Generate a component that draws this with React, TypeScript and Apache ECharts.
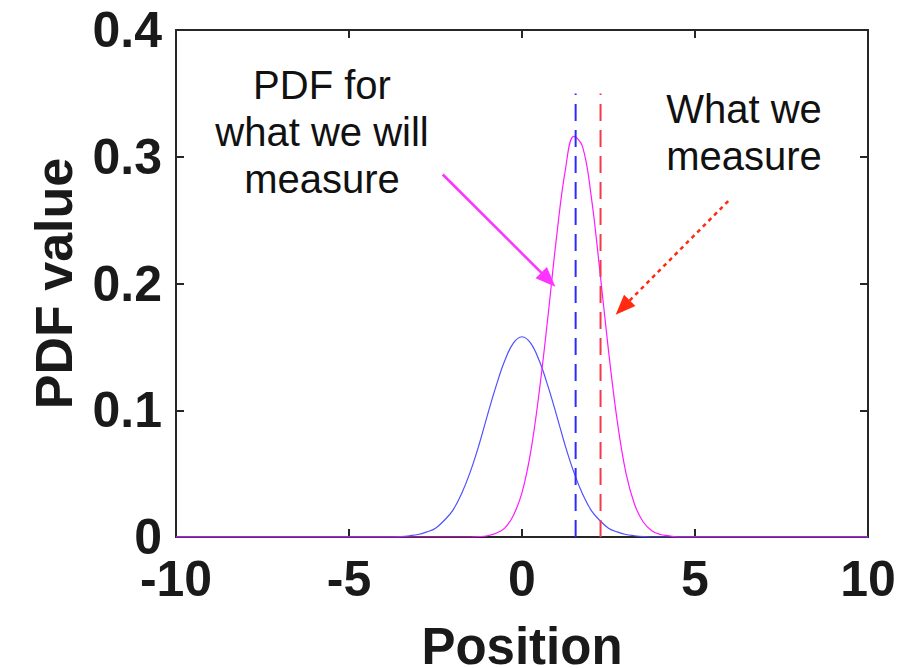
import React, { useEffect, useRef } from "react";
import * as echarts from "echarts";

// Prior PDF (blue)
const priorX = [-10, -4, -3.75, -3.5, -3.25, -3, -2.75, -2.5, -2.25, -2, -1.75, -1.5, -1.25, -1, -0.75, -0.5, -0.25, 0, 0.25, 0.5, 0.75, 1, 1.25, 1.5, 1.75, 2, 2.25, 2.5, 2.75, 3, 3.25, 3.5, 3.75, 4, 10];
const priorPdf = [0, 0, 0, 0.0003, 0.001, 0.002, 0.004, 0.007, 0.013, 0.021, 0.034, 0.051, 0.072, 0.096, 0.119, 0.139, 0.153, 0.158, 0.153, 0.139, 0.119, 0.096, 0.072, 0.051, 0.034, 0.021, 0.013, 0.007, 0.004, 0.002, 0.001, 0.0003, 0, 0, 0];

// PDF for what we will measure (magenta)
const measX = [-10, -1.5, -1.25, -1, -0.75, -0.5, -0.25, 0, 0.25, 0.5, 0.75, 1, 1.25, 1.5, 1.75, 2, 2.25, 2.5, 2.75, 3, 3.25, 3.5, 3.75, 4, 4.25, 4.5, 10];
const measPdf = [0, 0, 0.0003, 0.001, 0.003, 0.007, 0.017, 0.035, 0.067, 0.115, 0.174, 0.237, 0.289, 0.316, 0.308, 0.269, 0.21, 0.147, 0.092, 0.051, 0.026, 0.012, 0.005, 0.002, 0.001, 0, 0];

// vertical dashed markers
const predictedPosition = 1.55;
const measuredPosition = 2.27;
const markerTop = 0.35;

// annotation arrows in data coordinates [x, y]
const pdfArrowFrom = [-2.29, 0.286];
const pdfArrowTo = [0.76, 0.203];
const measArrowFrom = [5.96, 0.265];
const measArrowTo = [2.91, 0.181];

const annotationPdf = "PDF for\nwhat we will\nmeasure";
const annotationMeas = "What we\nmeasure";

const xLabel = "Position";
const yLabel = "PDF value";

export default function App() {
  const ref = useRef<HTMLDivElement>(null);
  useEffect(() => {
    if (!ref.current) return;
    const chart = echarts.init(ref.current, undefined, { renderer: "svg" });
    const axisColor = "#262626";
    const font = "'Liberation Sans', Arial, Helvetica, sans-serif";
    const tickLabel = {
      fontSize: 50,
      lineHeight: 36,
      fontWeight: "bold" as const,
      fontFamily: font,
      color: "#1a1a1a",
    };
    const axisLine = { show: true, onZero: false, lineStyle: { color: axisColor, width: 2 } };
    const axisTick = { show: true, inside: true, length: 8, lineStyle: { color: axisColor, width: 2 } };
    const nameStyle = {
      fontSize: 51,
      lineHeight: 44,
      fontWeight: "bold" as const,
      fontFamily: font,
      color: "#1a1a1a",
    };
    chart.setOption({
      animation: false,
      backgroundColor: "#ffffff",
      grid: {
        left: 176,
        top: 30,
        width: 692,
        height: 507,
        containLabel: false,
        outerBoundsMode: "none",
      },
      xAxis: [
        {
          type: "value",
          min: -10,
          max: 10,
          interval: 5,
          position: "bottom",
          axisLine,
          axisTick,
          splitLine: { show: false },
          axisLabel: { ...tickLabel, margin: 24 },
          name: xLabel,
          nameLocation: "middle",
          nameGap: 87,
          nameTextStyle: nameStyle,
        },
        {
          type: "value",
          min: -10,
          max: 10,
          interval: 5,
          position: "top",
          axisLine,
          axisTick,
          splitLine: { show: false },
          axisLabel: { show: false },
        },
      ],
      yAxis: [
        {
          type: "value",
          min: 0,
          max: 0.4,
          interval: 0.1,
          position: "left",
          axisLine,
          axisTick,
          splitLine: { show: false },
          axisLabel: { ...tickLabel, margin: 14 },
          name: yLabel,
          nameLocation: "middle",
          nameGap: 96,
          nameTextStyle: { ...nameStyle, fontSize: 52, lineHeight: 52 },
        },
        {
          type: "value",
          min: 0,
          max: 0.4,
          interval: 0.1,
          position: "right",
          axisLine,
          axisTick,
          splitLine: { show: false },
          axisLabel: { show: false },
        },
      ],
      series: [
        {
          type: "line",
          name: "prior",
          data: priorX.map((x, i) => [x, priorPdf[i]]),
          showSymbol: false,
          smooth: 0.4,
          lineStyle: { color: "#5050ff", width: 1.2 },
          z: 3,
        },
        {
          type: "line",
          name: "measure pdf",
          data: measX.map((x, i) => [x, measPdf[i]]),
          showSymbol: false,
          smooth: 0.4,
          lineStyle: { color: "#ff1aff", width: 1.2 },
          z: 4,
        },
        {
          type: "line",
          name: "predicted",
          data: [
            [predictedPosition, 0],
            [predictedPosition, markerTop],
          ],
          showSymbol: false,
          lineStyle: { color: "#2b2bff", width: 2, type: [17, 9] },
          z: 5,
        },
        {
          type: "line",
          name: "measured",
          data: [
            [measuredPosition, 0],
            [measuredPosition, markerTop],
          ],
          showSymbol: false,
          lineStyle: { color: "#f23a4a", width: 2, type: [17, 9] },
          z: 5,
        },
        {
          type: "line",
          name: "arrows",
          data: [],
          showSymbol: false,
          markLine: {
            silent: true,
            animation: false,
            label: { show: false },
            symbol: ["none", "triangle"],
            symbolSize: [16, 20],
            data: [
              [
                { coord: pdfArrowFrom, lineStyle: { color: "#ff33ff", width: 2.5, type: "solid" } },
                { coord: pdfArrowTo },
              ],
              [
                { coord: measArrowFrom, lineStyle: { color: "#ff2a10", width: 2.5, type: [4, 4] } },
                { coord: measArrowTo },
              ],
            ],
          },
          z: 6,
        },
      ],
      graphic: [
        {
          type: "text",
          x: 322,
          y: 61,
          style: {
            text: annotationPdf,
            font: `40px ${font}`,
            fill: "#111111",
            align: "center",
            verticalAlign: "top",
            lineHeight: 47,
          },
        },
        {
          type: "text",
          x: 744,
          y: 85,
          style: {
            text: annotationMeas,
            font: `40px ${font}`,
            fill: "#111111",
            align: "center",
            verticalAlign: "top",
            lineHeight: 47,
          },
        },
      ],
    });
    return () => chart.dispose();
  }, []);
  return (
    <div
      ref={ref}
      style={{ position: "fixed", left: 0, top: 0, width: 921, height: 668, background: "#fff" }}
    />
  );
}
